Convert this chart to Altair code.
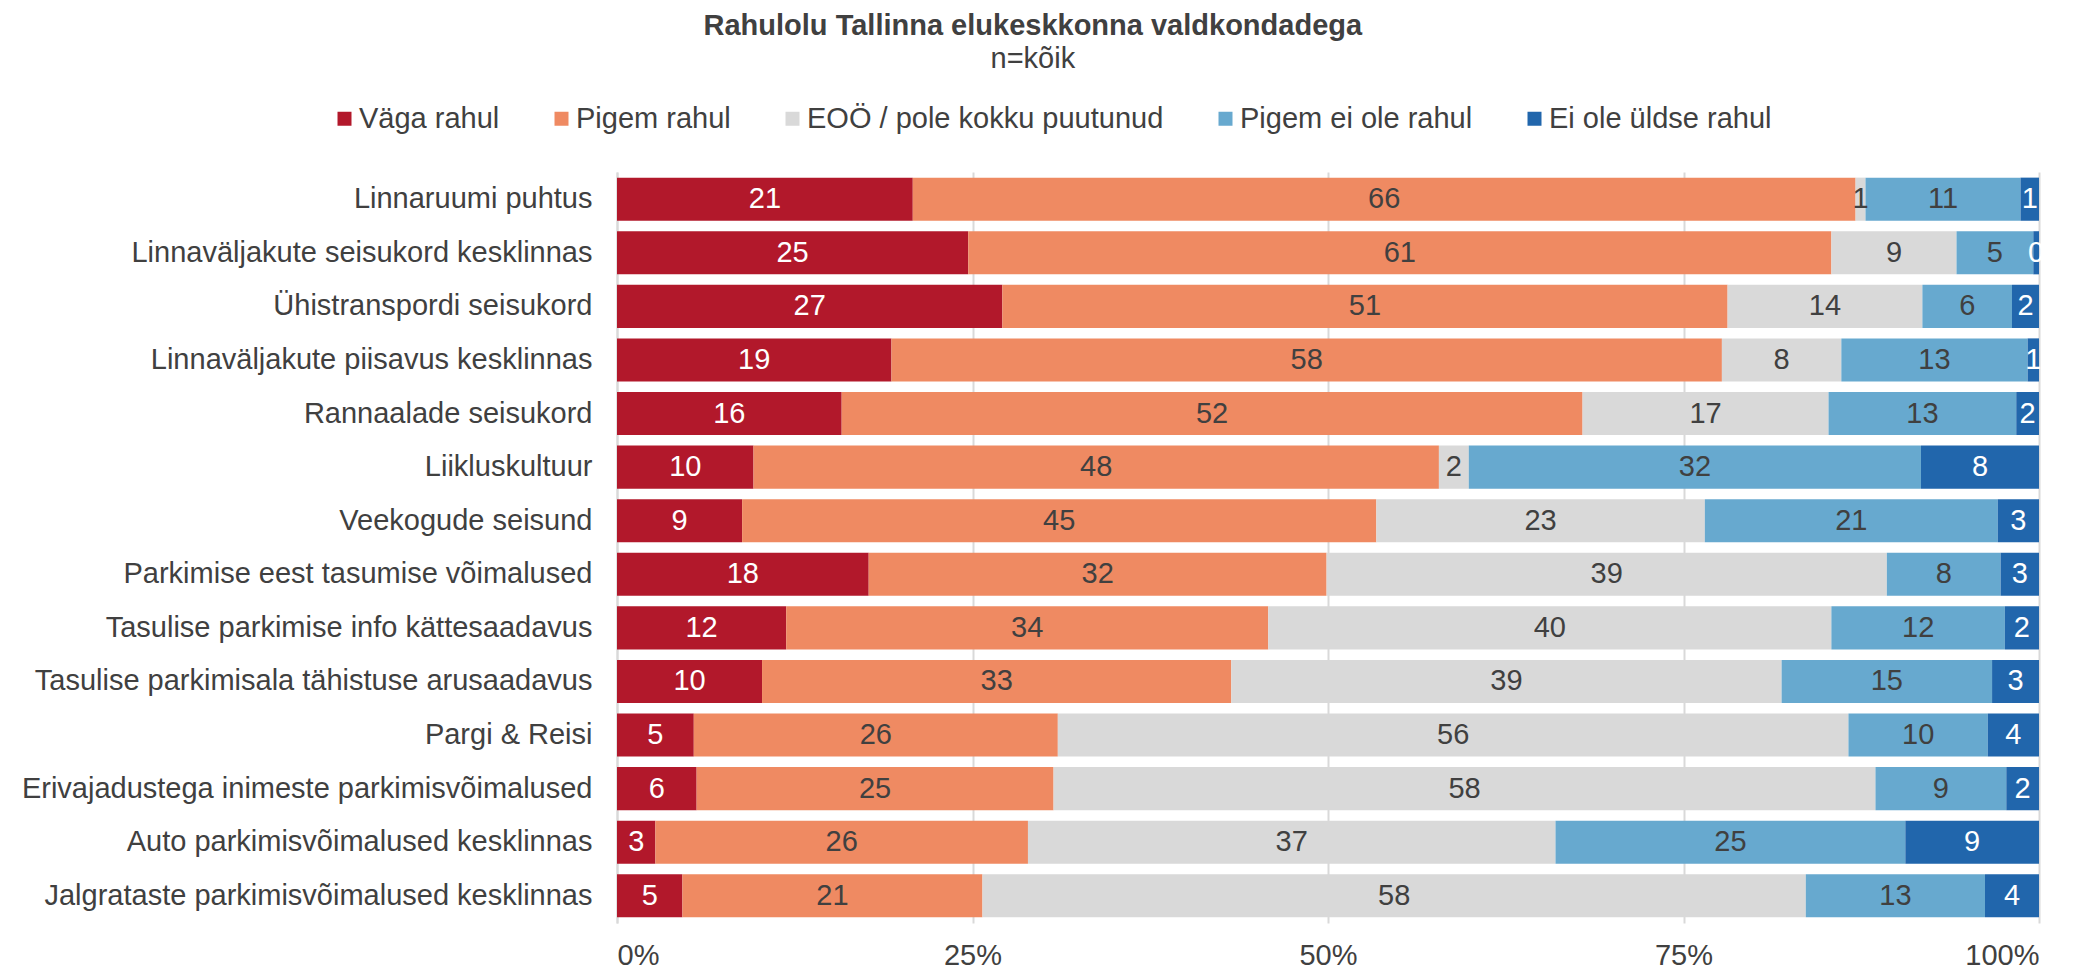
import altair as alt
import pandas as pd

categories = [
    "Linnaruumi puhtus",
    "Linnaväljakute seisukord kesklinnas",
    "Ühistranspordi seisukord",
    "Linnaväljakute piisavus kesklinnas",
    "Rannaalade seisukord",
    "Liikluskultuur",
    "Veekogude seisund",
    "Parkimise eest tasumise võimalused",
    "Tasulise parkimise info kättesaadavus",
    "Tasulise parkimisala tähistuse arusaadavus",
    "Pargi & Reisi",
    "Erivajadustega inimeste parkimisvõimalused",
    "Auto parkimisvõimalused kesklinnas",
    "Jalgrataste parkimisvõimalused kesklinnas",
]

series = [
    "Väga rahul",
    "Pigem rahul",
    "EOÖ / pole kokku puutunud",
    "Pigem ei ole rahul",
    "Ei ole üldse rahul",
]

vaga_rahul = [20.8, 24.7, 27.1, 19.3, 15.8, 9.6, 8.8, 17.7, 11.9, 10.2, 5.4, 5.6, 2.7, 4.6]
pigem_rahul = [66.3, 60.7, 51.0, 58.4, 52.1, 48.2, 44.6, 32.2, 33.9, 33.0, 25.6, 25.1, 26.2, 21.1]
eoo = [0.7, 8.8, 13.7, 8.4, 17.3, 2.1, 23.1, 39.4, 39.6, 38.7, 55.6, 57.8, 37.1, 57.9]
pigem_ei_ole = [10.9, 5.4, 6.3, 13.1, 13.2, 31.8, 20.6, 8.0, 12.2, 14.8, 9.8, 9.2, 24.6, 12.6]
ei_ole_uldse = [1.3, 0.4, 1.9, 0.8, 1.6, 8.3, 2.9, 2.7, 2.4, 3.3, 3.6, 2.3, 9.4, 3.8]

colors = ["#B2182B", "#EF8A62", "#D9D9D9", "#67A9CF", "#2166AC"]
x_ticks = [0, 0.25, 0.5, 0.75, 1]

rows = []
for s_idx, (name, vals) in enumerate(zip(series, [vaga_rahul, pigem_rahul, eoo, pigem_ei_ole, ei_ole_uldse])):
    for cat, v in zip(categories, vals):
        rows.append({"category": cat, "series": name, "order": s_idx, "value": v})
df = pd.DataFrame(rows)

FONT = "Liberation Sans"
TXT = "#404040"
FS = 29

base = (
    alt.Chart(df)
    .transform_stack(
        stack="value",
        groupby=["category"],
        as_=["x0", "x1"],
        sort=[alt.SortField("order", order="ascending")],
        offset="normalize",
    )
    .transform_calculate(mid="(datum.x0 + datum.x1) / 2")
)

y_enc = alt.Y(
    "category:N",
    sort=categories,
    title=None,
    scale=alt.Scale(paddingInner=0.195, paddingOuter=0.105),
    axis=alt.Axis(
        labelFontSize=FS,
        labelFont=FONT,
        labelColor=TXT,
        ticks=False,
        domain=True,
        domainColor="#D9D9D9",
        domainWidth=2,
        labelPadding=25,
        labelLimit=1000,
        grid=False,
    ),
)

bars = base.mark_bar().encode(
    y=y_enc,
    x=alt.X(
        "x0:Q",
        scale=alt.Scale(domain=[0, 1]),
        title=None,
        axis=alt.Axis(
            values=x_ticks,
            format=".0%",
            grid=True,
            gridColor="#D9D9D9",
            gridWidth=2,
            domain=False,
            ticks=False,
            labelFontSize=FS,
            labelFont=FONT,
            labelColor=TXT,
            labelPadding=18,
        ),
    ),
    x2="x1:Q",
    color=alt.Color(
        "series:N",
        scale=alt.Scale(domain=series, range=colors),
        legend=alt.Legend(
            title=None,
            orient="none",
            legendX=-287,
            legendY=-68,
            direction="horizontal",
            columns=5,
            symbolType="square",
            symbolSize=196,
            symbolStrokeWidth=0,
            labelFontSize=FS,
            labelFont=FONT,
            labelColor=TXT,
            labelOffset=0,
            columnPadding=47,
            labelLimit=1000,
        ),
    ),
    order=alt.Order("order:Q"),
)

labels = base.mark_text(fontSize=FS, font=FONT).encode(
    y=alt.Y("category:N", sort=categories),
    x=alt.X("mid:Q"),
    text=alt.Text("value:Q", format=".0f"),
    color=alt.condition(
        "datum.order == 0 || datum.order == 4",
        alt.value("white"),
        alt.value(TXT),
    ),
)

chart = (
    alt.layer(bars, labels)
    .properties(
        width=1422,
        height=751,
        padding={"left": 13, "top": 4, "right": 0, "bottom": 5},
        title=alt.TitleParams(
            text="Rahulolu Tallinna elukeskkonna valdkondadega",
            subtitle="n=kõik",
            fontSize=FS,
            subtitleFontSize=FS,
            font=FONT,
            subtitleFont=FONT,
            fontWeight="bold",
            color=TXT,
            subtitleColor=TXT,
            anchor="middle",
            frame="bounds",
            offset=30,
            subtitlePadding=4,
        ),
    )
    .configure_view(stroke=None)
)

chart.save("out.html", embed_options={"renderer": "svg", "actions": False})
